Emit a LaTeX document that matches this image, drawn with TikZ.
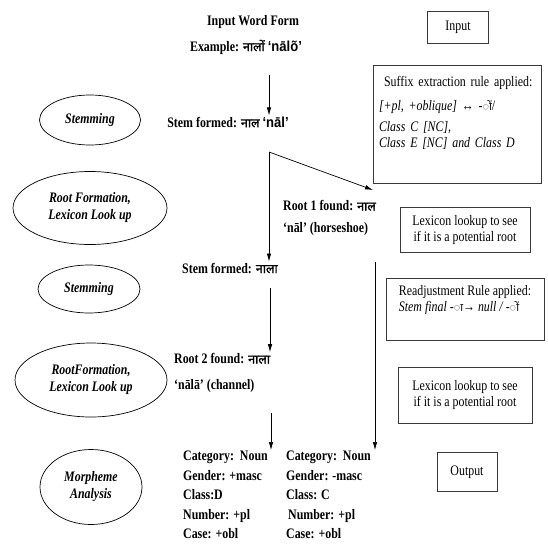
\documentclass[tikz,border=0pt]{standalone}
\usepackage{fontspec}
\setmainfont[FakeStretch=0.82]{Liberation Serif}
\newfontfamily\devafont[Script=Devanagari]{Noto Sans}
\newfontfamily\devabold[Script=Devanagari,FakeBold=1.6]{Noto Sans}
\newfontfamily\latsans[FakeStretch=0.9]{Liberation Sans}
\usetikzlibrary{arrows.meta,positioning,shapes.geometric}
\definecolor{boxgray}{HTML}{3A3A3A}
\tikzset{
  stage/.style={draw,ellipse,inner sep=0pt,align=center,line width=0.7pt,
    font=\bfseries\itshape\fontsize{14.5}{17}\selectfont},
  rulebox/.style={draw=boxgray,line width=1pt,inner sep=3pt,align=left,
    font=\fontsize{14.5}{16}\selectfont},
  steptext/.style={inner sep=1pt,align=left,font=\bfseries\fontsize{14.5}{17}\selectfont},
  flowarrow/.style={-{Latex[length=8pt,width=4.5pt]},line width=0.7pt}
}
\newcommand{\dv}[1]{{\devabold\fontsize{12.5}{15}\selectfont #1}}
\begin{document}
\begin{tikzpicture}[x=1pt,y=-1pt]
\useasboundingbox (0,0) rectangle (548,546);
% input word
\node[steptext] (inwf) at (253,22) {Input Word Form};
\node[steptext] (exmp) at (246,47) {Example: \dv{नालों} {\latsans ‘nālõ’}};
\node[steptext] (stem1) at (228,122) {Stem formed: \dv{नाल} {\latsans ‘nāl’}};
\node[steptext,anchor=west] (root1) at (282,218) {Root 1 found: \dv{नाल}\\[5pt]‘nāl’ (horseshoe)};
\node[steptext] (stem2) at (230,268) {Stem formed: \dv{नाला}};
\node[steptext,anchor=west] (root2) at (173,373) {Root 2 found: \dv{नाला}\\[9pt]‘nālā’ (channel)};
\node[steptext,anchor=north west,font=\bfseries\fontsize{14.5}{19.5}\selectfont] (morphL) at (182,450)
  {Category:\ \ Noun\\Gender: +masc\\Class:D\\Number: +pl\\Case: +obl};
\node[steptext,anchor=north west,font=\bfseries\fontsize{14.5}{19.5}\selectfont] (morphR) at (285,450)
  {Category:\ \ Noun\\Gender: -masc\\Class: C\\\hspace*{2pt}Number: +pl\\Case: +obl};
% stages
\node[stage,minimum width=101,minimum height=50] (st1) at (90,120) {Stemming};
\node[stage,minimum width=154,minimum height=73] (rf1) at (90,208) {Root Formation,\\Lexicon Look up};
\node[stage,minimum width=102,minimum height=48] (st2) at (89,289) {Stemming};
\node[stage,minimum width=152,minimum height=74] (rf2) at (91,380) {RootFormation,\\Lexicon Look up};
\node[stage,minimum width=102,minimum height=75] (ma) at (91,487) {Morpheme\\Analysis};
% rule boxes
\node[rulebox,align=center,minimum width=61,minimum height=32] (inbox) at (458,27) {Input};
\node[rulebox,text width=156,minimum width=168,minimum height=118] (suffix) at (457,124)
  {\hspace*{5pt}Suffix extraction rule applied:\\[8pt]
   \textit{[+pl, +oblique]} ↔ -{\devafont\fontsize{11}{13}\selectfont ◌ों}/\\[5pt]
   \textit{Class C [NC],}\\
   \textit{Class E [NC] and Class D}\\[4pt]\strut};
\node[rulebox,align=center,minimum width=130,minimum height=45] (lex1) at (465,230)
  {Lexicon lookup to see\\if it is a potential root};
\node[rulebox,minimum width=158,minimum height=62] (readj) at (465,309)
  {Readjustment Rule applied:\\\textit{Stem final -{\devafont\fontsize{11}{13}\selectfont ◌ा}→ null / -{\devafont\fontsize{11}{13}\selectfont ◌ों}}\\[1pt]\strut};
\node[rulebox,align=center,minimum width=134,minimum height=56] (lex2) at (465,395)
  {Lexicon lookup to see\\if it is a potential root};
\node[rulebox,align=center,minimum width=60,minimum height=39] (outbox) at (467,472) {Output};
% connectors
\coordinate (c1) at (269,75);
\coordinate (fork) at (269,152);
\coordinate (r1tip) at (373,190);
\coordinate (rtop) at (375,262);
\coordinate (c2) at (270,288);
\coordinate (c3) at (271,413);
\draw[flowarrow] (c1) -- (c1 |- stem1.north);
\draw[flowarrow] (fork) -- (r1tip);
\draw[flowarrow] (fork) -- (fork |- stem2.north);
\draw[flowarrow] (c2) -- (c2 |- root2.north);
\draw[flowarrow] (c3) -- (c3 |- morphL.north);
\draw[flowarrow] (rtop) -- (rtop |- morphR.north);
\end{tikzpicture}
\end{document}
